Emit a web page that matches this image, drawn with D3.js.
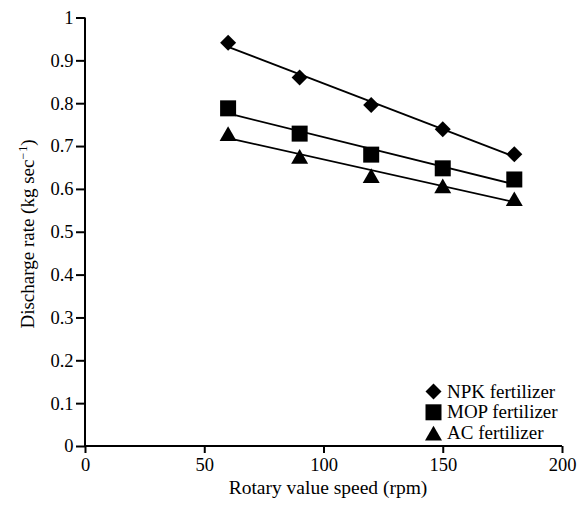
<!DOCTYPE html>
<html><head><meta charset="utf-8">
<script src="https://cdn.jsdelivr.net/npm/d3@7"></script>
<style>body{margin:0;background:#fff}svg text{font-family:"Liberation Serif","Times New Roman",Times,"DejaVu Serif",serif !important;fill:#000}</style>
</head><body><svg id="c" width="579" height="510"></svg>
<script>
const speeds = [60, 90, 120, 150, 180];
const npk = [0.941, 0.860, 0.796, 0.739, 0.681];
const mop = [0.788, 0.729, 0.680, 0.648, 0.622];
const ac = [0.729, 0.676, 0.631, 0.607, 0.577];
const xTicks = [0, 50, 100, 150, 200];
const yTicks = [0, 0.1, 0.2, 0.3, 0.4, 0.5, 0.6, 0.7, 0.8, 0.9, 1];
const seriesNames = ["NPK fertilizer", "MOP fertilizer", "AC fertilizer"];

const svg = d3.select("#c");
const x = d3.scaleLinear().domain([0, 200]).range([85, 562]);
const y = d3.scaleLinear().domain([0, 1]).range([446, 17.5]);
const FONT = '"Liberation Serif","Times New Roman",Times,serif';
const FS = 18.5;

// axes
const xa = svg.append("g").attr("transform", "translate(0,446)")
  .call(d3.axisBottom(x).tickValues(xTicks).tickSize(7).tickPadding(5).tickFormat(d3.format("d")));
const ya = svg.append("g").attr("transform", "translate(85,0)")
  .call(d3.axisLeft(y).tickValues(yTicks).tickSize(9).tickPadding(2.5).tickFormat(d => d === 0 || d === 1 ? String(d) : d3.format(".1f")(d)));
[xa, ya].forEach(a => {
  a.attr("font-family", FONT).attr("font-size", FS);
  a.select(".domain").attr("stroke", "#000").attr("stroke-width", 2);
  a.selectAll(".tick line").attr("stroke", "#000").attr("stroke-width", 2);
  a.selectAll("text").attr("fill", "#000");
});
xa.select(".domain").attr("d", `M${x(0)},0H${x(200)}`);
ya.select(".domain").attr("d", `M0,${y(0)}V${y(1)}`);

// titles
svg.append("text").attr("x", 328).attr("y", 494).attr("font-family", FONT)
  .attr("text-anchor", "middle").attr("font-size", 19.5).text("Rotary value speed (rpm)");
const yt = svg.append("text").attr("transform", `translate(34,234) rotate(-90)`)
  .attr("text-anchor", "middle").attr("font-size", 19).attr("font-family", FONT);
yt.append("tspan").text("Discharge rate (kg sec");
yt.append("tspan").attr("baseline-shift", "super").attr("font-size", 12).text("\u2212\u200a1");
yt.append("tspan").text(")");

// symbols
const tri = d3.symbol().type(d3.symbolTriangle).size(125)();
const triA = Math.sqrt(125 / (3 * Math.sqrt(3)));
const sym = [
  {path: d3.symbol().type(d3.symbolSquare).size(128)(), rot: 45, dy: 0},
  {path: d3.symbol().type(d3.symbolSquare).size(256)(), rot: 0, dy: 0},
  {path: tri, rot: 0, dy: triA / 2}
];
const all = [npk, mop, ac];

function fit(vals) {
  const mx = d3.mean(speeds), my = d3.mean(vals);
  const b = d3.sum(speeds, (s, i) => (s - mx) * (vals[i] - my)) / d3.sum(speeds, s => (s - mx) ** 2);
  return s => my + b * (s - mx);
}
const line = d3.line().x(d => x(d[0])).y(d => y(d[1]));
all.forEach((vals, k) => {
  const f = fit(vals);
  const ext = d3.extent(speeds);
  svg.append("path").attr("d", line(ext.map(s => [s, f(s)])))
    .attr("fill", "none").attr("stroke", "#000").attr("stroke-width", 1.8);
  svg.selectAll(null).data(speeds.map((s, i) => [s, vals[i]])).join("path")
    .attr("d", sym[k].path)
    .attr("transform", d => `translate(${x(d[0])},${y(d[1]) + sym[k].dy}) rotate(${sym[k].rot})`)
    .attr("fill", "#000");
});

// legend
const lg = svg.append("g");
seriesNames.forEach((n, k) => {
  const cy = 391.5 + k * 20.8;
  lg.append("path").attr("d", sym[k].path).attr("fill", "#000")
    .attr("transform", `translate(433.5,${cy + sym[k].dy}) rotate(${sym[k].rot})`);
  lg.append("text").attr("x", 447).attr("y", cy + 6).attr("font-size", 19).attr("font-family", FONT).text(n);
});
</script></body></html>
